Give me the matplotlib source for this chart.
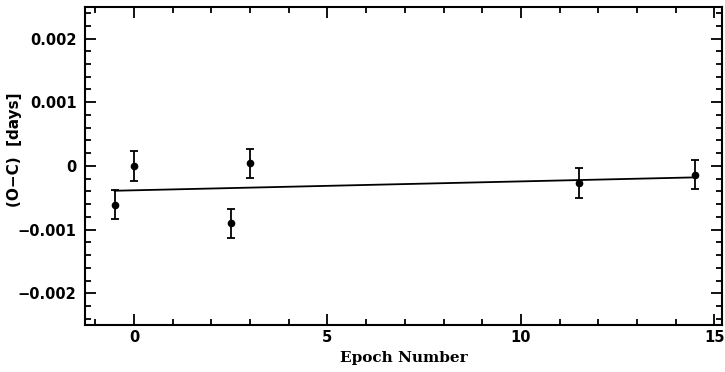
import numpy as np
import matplotlib
matplotlib.use("Agg")
import matplotlib.pyplot as plt
from matplotlib.ticker import MultipleLocator, FuncFormatter

# O-C timing residuals per epoch
epoch = [-0.5, 0.0, 2.5, 3.0, 11.5, 14.5]
oc_days = [-0.00061, 0.0, -0.00090, 0.00004, -0.00027, -0.00014]
oc_err = [0.00023, 0.00023, 0.00023, 0.00023, 0.00023, 0.00023]

# linear ephemeris fit
fit_epoch = [-0.5, 14.5]
fit_oc = [-0.00039, -0.00018]

fig = plt.figure(figsize=(7.25, 3.72), dpi=100)
ax = fig.add_axes([0.117, 0.126, 0.879, 0.856])

ax.errorbar(epoch, oc_days, yerr=oc_err, fmt='o', color='black',
            markersize=4.5, elinewidth=1.3, capsize=3, capthick=1.3)
ax.plot(fit_epoch, fit_oc, color='black', linewidth=1.3)

ax.set_xlim(-1.27, 15.2)
ax.set_ylim(-0.0025, 0.0025)

ax.xaxis.set_major_locator(MultipleLocator(5))
ax.xaxis.set_minor_locator(MultipleLocator(1))
ax.yaxis.set_major_locator(MultipleLocator(0.001))
ax.yaxis.set_minor_locator(MultipleLocator(0.0002))

def fmt_y(v, pos):
    if abs(v) < 1e-12:
        return '0'
    return f'{v:.3f}'.replace('-', '\u2212')

ax.yaxis.set_major_formatter(FuncFormatter(fmt_y))
ax.xaxis.set_major_formatter(FuncFormatter(lambda v, p: f'{v:.0f}'))

ax.tick_params(which='both', direction='in', top=True, right=True,
               width=1.3, labelsize=10.5)
ax.tick_params(which='major', length=8)
ax.tick_params(axis='y', pad=6)
ax.tick_params(which='minor', length=4)
for lab in ax.get_xticklabels() + ax.get_yticklabels():
    lab.set_fontweight('bold')
for s in ax.spines.values():
    s.set_linewidth(1.5)

ax.set_xlabel('Epoch Number', family='DejaVu Serif', fontweight='bold',
              fontsize=11, labelpad=4)
ax.set_ylabel('(O\u2212C)  [days]', fontweight='bold', fontsize=11)
ax.yaxis.set_label_coords(-0.098, 0.55)

fig.savefig('out.png', dpi=100)
